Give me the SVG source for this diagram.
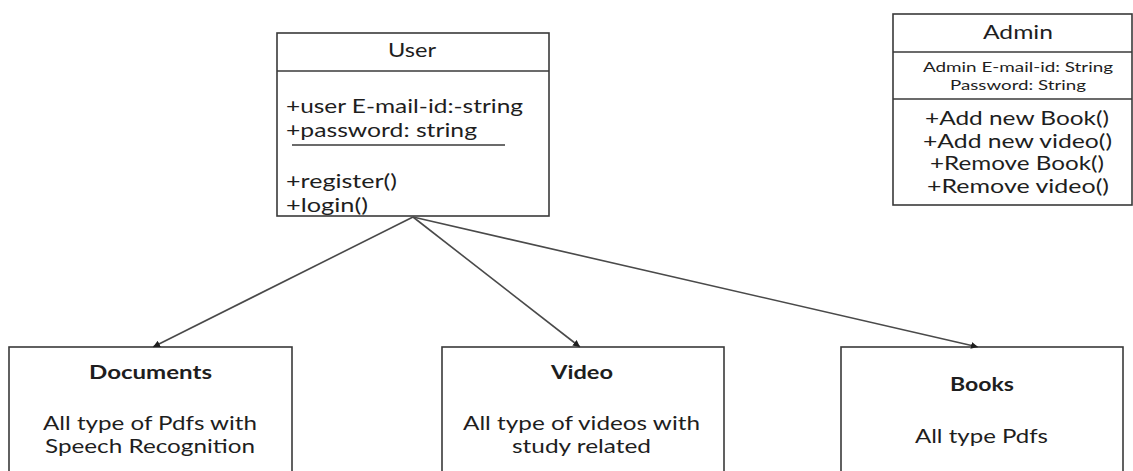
<svg xmlns="http://www.w3.org/2000/svg" width="1133" height="471" viewBox="0 0 1133 471">
  <style>
    .box { fill: #ffffff; stroke: #3a3a3a; stroke-width: 1.6; }
    .rule { stroke: #3a3a3a; stroke-width: 1.6; fill: none; }
    .t { font-family: Lato, "Liberation Sans", sans-serif; fill: #1e1e1e; font-size: 19px; }
    .sm { font-size: 14px; }
    .op { font-size: 20px; }
    .b { font-weight: bold; }
    .edge { stroke: #4a4a4a; stroke-width: 1.6; fill: none; marker-end: url(#arrow); }
  </style>
  <defs>
    <marker id="arrow" viewBox="0 0 10 10" refX="10" refY="5" markerWidth="7" markerHeight="7" orient="auto" markerUnits="userSpaceOnUse">
      <path d="M0,0 L10,5 L0,10 z" fill="#1e1e1e"/>
    </marker>
  </defs>
  <rect width="1133" height="471" fill="#ffffff"/>

  <!-- User class -->
  <g id="user">
    <rect class="box" x="277" y="33" width="272" height="183"/>
    <line class="rule" x1="277" y1="71" x2="549" y2="71"/>
    <line class="rule" x1="292" y1="145" x2="505" y2="145"/>
    <text class="t" x="388" y="57" textLength="48" lengthAdjust="spacingAndGlyphs">User</text>
    <text class="t" x="286" y="113" textLength="237" lengthAdjust="spacingAndGlyphs">+user E-mail-id:-string</text>
    <text class="t" x="286" y="137" textLength="191" lengthAdjust="spacingAndGlyphs">+password: string</text>
    <text class="t" x="286" y="188" textLength="111" lengthAdjust="spacingAndGlyphs">+register()</text>
    <text class="t" x="286" y="212" textLength="82" lengthAdjust="spacingAndGlyphs">+login()</text>
  </g>

  <!-- Admin class -->
  <g id="admin">
    <rect class="box" x="893" y="14" width="239" height="191"/>
    <line class="rule" x1="893" y1="52" x2="1132" y2="52"/>
    <line class="rule" x1="893" y1="99" x2="1132" y2="99"/>
    <text class="t" x="983" y="39" textLength="70" lengthAdjust="spacingAndGlyphs">Admin</text>
    <text class="t sm" x="923" y="72" textLength="190" lengthAdjust="spacingAndGlyphs">Admin E-mail-id: String</text>
    <text class="t sm" x="950" y="90" textLength="136" lengthAdjust="spacingAndGlyphs">Password: String</text>
    <text class="t op" x="925" y="125" textLength="184" lengthAdjust="spacingAndGlyphs">+Add new Book()</text>
    <text class="t op" x="923" y="148" textLength="189" lengthAdjust="spacingAndGlyphs">+Add new video()</text>
    <text class="t op" x="930" y="170" textLength="174" lengthAdjust="spacingAndGlyphs">+Remove Book()</text>
    <text class="t op" x="927" y="193" textLength="182" lengthAdjust="spacingAndGlyphs">+Remove video()</text>
  </g>

  <!-- Documents -->
  <g id="documents">
    <rect class="box" x="9" y="347" width="283" height="140"/>
    <text class="t b" x="89" y="379" textLength="123" lengthAdjust="spacingAndGlyphs">Documents</text>
    <text class="t op" x="43" y="430" textLength="214" lengthAdjust="spacingAndGlyphs">All type of Pdfs with</text>
    <text class="t op" x="45" y="453" textLength="210" lengthAdjust="spacingAndGlyphs">Speech Recognition</text>
  </g>

  <!-- Video -->
  <g id="video">
    <rect class="box" x="442" y="347" width="282" height="140"/>
    <text class="t b" x="551" y="379" textLength="62" lengthAdjust="spacingAndGlyphs">Video</text>
    <text class="t op" x="463" y="430" textLength="237" lengthAdjust="spacingAndGlyphs">All type of videos with</text>
    <text class="t op" x="512" y="453" textLength="139" lengthAdjust="spacingAndGlyphs">study related</text>
  </g>

  <!-- Books -->
  <g id="books">
    <rect class="box" x="841" y="347" width="282" height="140"/>
    <text class="t b" x="950" y="391" textLength="64" lengthAdjust="spacingAndGlyphs">Books</text>
    <text class="t op" x="915" y="443" textLength="133" lengthAdjust="spacingAndGlyphs">All type Pdfs</text>
  </g>

  <!-- Connectors from User -->
  <g id="connectors">
    <line class="edge" x1="413" y1="217" x2="153" y2="347"/>
    <line class="edge" x1="413" y1="217" x2="580" y2="347"/>
    <line class="edge" x1="413" y1="217" x2="978" y2="347"/>
  </g>
</svg>
